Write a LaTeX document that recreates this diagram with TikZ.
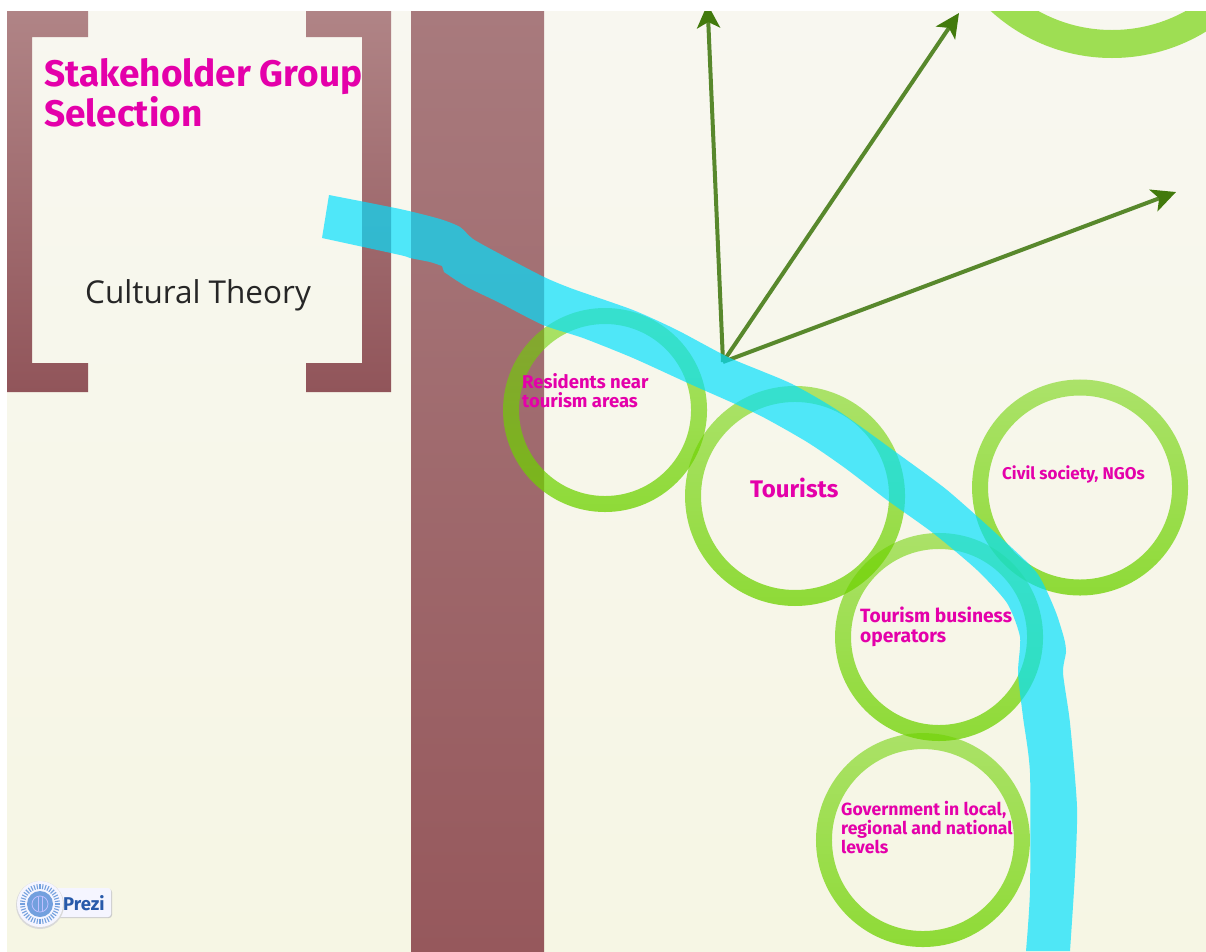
\documentclass[tikz,border=0pt]{standalone}
\usepackage{fontspec}
\usetikzlibrary{arrows.meta,fadings}
\newfontfamily\dinfont{Fira Sans}
\newfontfamily\lightfont{Open Sans}
\definecolor{cream}{RGB}{248,247,240}
\definecolor{creamlow}{RGB}{246,246,228}
\definecolor{burgtop}{RGB}{176,132,134}
\definecolor{burglow}{RGB}{145,85,90}
\definecolor{coltop}{RGB}{168,122,125}
\definecolor{collow}{RGB}{150,88,92}
\definecolor{ringgreen}{RGB}{110,210,0}
\definecolor{bandcyan}{RGB}{0,224,255}
\definecolor{arrowgreen}{RGB}{66,122,12}
\definecolor{shaftgreen}{RGB}{88,136,44}
\definecolor{magtext}{RGB}{228,0,170}
\definecolor{prezitext}{RGB}{40,90,170}
\definecolor{prezidisc}{RGB}{115,160,222}
\tikzfading[name=ringfade,top color=transparent!45,bottom color=transparent!24]
\tikzset{
  ringfill/.style={fill=ringgreen,even odd rule,path fading=ringfade,fit fading=true},
  bracketbar/.style={top color=burgtop,bottom color=burglow,draw=none},
  spoke/.style={draw=shaftgreen,line width=4pt,-{Stealth[length=24pt,width=23pt,inset=6pt,color=arrowgreen]}},
  label/.style={anchor=north west,inner sep=0pt,text=magtext,align=left},
}
\newcommand{\ringat}[3]{\path[ringfill] (#1,#2) circle[radius=#3] (#1,#2) circle[radius=#3-16];}
\begin{document}
\begin{tikzpicture}[x=1pt,y=-1pt]
\useasboundingbox (0,0) rectangle (1206,951);
\fill[white] (0,0) rectangle (1206,951);
\shade[top color=cream,bottom color=creamlow] (7,11) rectangle (1206,951);
\shade[bracketbar] (7,11) -- (88,11) -- (88,37) -- (32,37) -- (32,363) -- (88,363) -- (88,392) -- (7,392) -- cycle;
\shade[bracketbar] (306,11) -- (391,11) -- (391,392) -- (306,392) -- (306,363) -- (362,363) -- (362,37) -- (306,37) -- cycle;
\shade[top color=coltop,bottom color=collow] (411,11) rectangle (544,951);
\begin{scope}
\clip (7,11) rectangle (1206,951);
\path[fill=ringgreen,fill opacity=.65,even odd rule] (1112,-122) circle[radius=180] (1112,-122) circle[radius=152];
\ringat{605}{410}{102}
\ringat{795}{496}{110}
\ringat{1080}{487.5}{108}
\ringat{939}{637}{104}
\ringat{923}{840}{107}
\coordinate (hub) at (723,362);
\coordinate (tipa) at (707.5,4);
\coordinate (tipb) at (959,13);
\coordinate (tipc) at (1176,192);
\draw[spoke] (hub) -- (tipa);
\draw[spoke] (hub) -- (tipb);
\draw[spoke] (hub) -- (tipc);
\node[label,font=\dinfont\bfseries\fontsize{18.5}{19}\selectfont] (residents) at (522,373) {Residents near\\tourism areas};
\node[label,font=\dinfont\bfseries\fontsize{24}{24}\selectfont] (tourists) at (750,478) {Tourists};
\node[label,font=\dinfont\bfseries\fontsize{17}{18}\selectfont] (civil) at (1002,466) {Civil society, NGOs};
\node[label,font=\dinfont\bfseries\fontsize{19.2}{20}\selectfont] (operators) at (860,606.5) {Tourism business\\operators};
\node[label,font=\dinfont\bfseries\fontsize{17.6}{19}\selectfont] (government) at (841,801) {Government in local,\\regional and national\\levels};
\fill[bandcyan,fill opacity=.68]
  plot[smooth,tension=.4] coordinates {(329,195) (400,209) (440,219) (460,227) (473,239) (500,254) (544,277) (573,289) (633,310) (677,330) (730,358) (790,383) (837,410) (897,453) (947,490) (1000,537) (1037,573) (1055,610) (1064,638) (1066,652) (1063,673) (1070,723) (1077,807) (1075,873) (1070,951)}
  -- (1026,951)
  -- plot[smooth,tension=.4] coordinates {(1026,951) (1030,890) (1030,773) (1023,717) (1018,673) (1020,637) (1007,603) (977,570) (933,533) (887,500) (845,468) (807,442) (757,414) (690,384) (633,358) (583,338) (543,325) (500,303) (467,287) (444,272)}
  -- plot[smooth,tension=.4] coordinates {(442,266) (430,262) (410,258) (400,255) (322,238)}
  -- cycle;
\end{scope}
\node[label,font=\dinfont\bfseries\fontsize{37}{40}\selectfont] (title) at (44,58.5) {Stakeholder Group\\Selection};
\node[anchor=base west,inner sep=0pt,text=black!85,font=\lightfont\fontsize{31.5}{36}\selectfont] (theory) at (85,303) {Cultural Theory};
\fill[black!20,rounded corners=3pt] (40,889) rectangle (112,918);
\fill[white!96!blue,rounded corners=3pt] (40,888) rectangle (111,917);
\fill[black!15] (40,905) circle[radius=24];
\fill[white!96!blue] (40,904) circle[radius=23];
\foreach \a in {0,9,...,351}
  \draw[prezidisc,line width=1.1pt] (40,904) ++(\a:15) -- ++(\a:5);
\fill[prezidisc] (40,904) circle[radius=13];
\draw[white!75!blue,line width=.8pt] (40,904) circle[radius=8];
\draw[white!75!blue,line width=.8pt] (38,897) -- (38,911) (42,897) -- (42,911);
\node[anchor=base west,inner sep=0pt,text=prezitext,font=\dinfont\bfseries\fontsize{18.5}{18}\selectfont] (prezi) at (63,910) {Prezi};
\end{tikzpicture}
\end{document}
